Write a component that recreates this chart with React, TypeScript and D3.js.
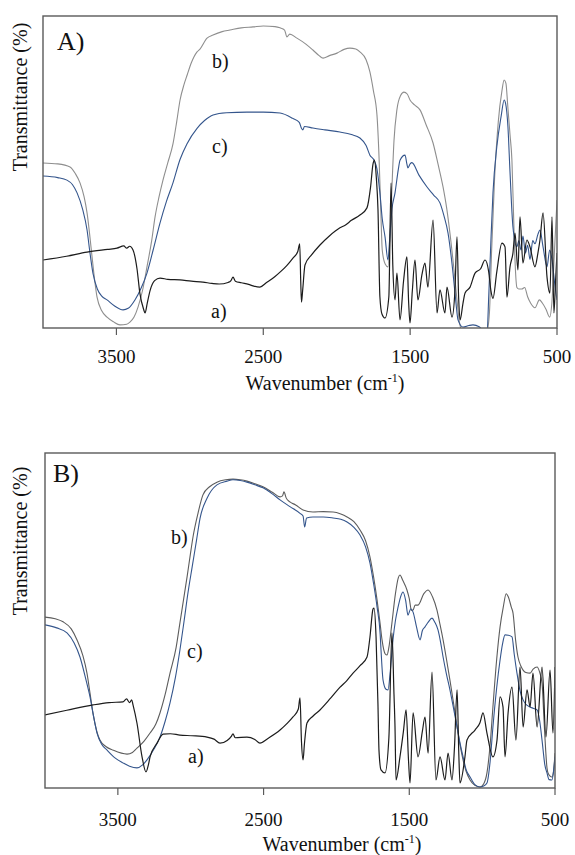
import React from "react";
import * as d3 from "d3";

type Pt = [number, number];

const xTicks = [3500, 2500, 1500, 500];
const xDomain: [number, number] = [4000, 500];
const yDomain: [number, number] = [0, 100];

// Panel A — spectrum a (black)
const A_a: Pt[] = [[4000,21.8],[3840,23.0],[3700,24.3],[3560,25.2],[3496,25.6],[3450,26.3],[3430,25.6],[3410,26.2],[3387,25.0],[3360,19],[3340,11.0],[3315,6],[3305,4.8],[3290,8],[3271,12.0],[3240,15.2],[3203,16.0],[3150,15.6],[3067,15.4],[2990,15.0],[2911,14.7],[2850,14.3],[2800,14.1],[2740,14.6],[2720,15.2],[2706,16.3],[2690,15.0],[2650,14.5],[2600,14.0],[2570,13.5],[2523,13.1],[2480,14.5],[2420,16.5],[2386,17.9],[2340,20],[2298,22.4],[2265,24.5],[2252,27.0],[2245,15],[2240,8.3],[2232,12],[2216,20.2],[2170,23.5],[2114,26.6],[2050,29.5],[1978,32.1],[1940,33],[1900,34.5],[1842,36.2],[1794,38.5],[1770,45],[1753,52.5],[1743,53.8],[1730,48],[1719,38],[1706,10],[1692,4.5],[1671,3.2],[1645,10],[1630,46.5],[1618,20],[1603,9.0],[1590,17.6],[1569,2.6],[1545,15],[1522,22.8],[1510,8],[1501,1.6],[1485,12],[1467,21.8],[1447,9.0],[1420,17],[1399,20.8],[1379,13.1],[1344,34.6],[1317,4.8],[1297,12.2],[1263,4.8],[1249,13.1],[1215,3.5],[1195,12],[1181,29.2],[1170,10],[1160,2.6],[1140,8],[1126,11.2],[1092,13.1],[1058,17.6],[1020,19],[990,21.8],[965,18],[950,12],[936,9.5],[910,18],[875,27.2],[854,26.0],[841,9.9],[820,19.6],[800,24],[786,30.4],[766,18.6],[752,35.6],[732,20.8],[705,28.2],[684,26.0],[650,19.6],[630,24],[616,28.2],[595,36.9],[568,16.3],[548,11.2],[534,35.6],[521,4.8],[510,15],[500,24]];

// Panel A — spectrum b (gray)
const A_b: Pt[] = [[4000,52.9],[3900,52.6],[3816,51.6],[3780,49.5],[3748,46.5],[3720,42],[3700,36.9],[3680,29],[3666,22.8],[3632,9.9],[3600,5.5],[3564,3.5],[3520,2],[3476,1.0],[3430,1.2],[3408,1.9],[3380,3.5],[3353,6.7],[3320,12.5],[3292,19.6],[3260,28],[3237,35.6],[3210,42],[3183,47.4],[3150,53],[3115,59],[3090,66],[3067,73],[3040,78],[3019,81],[2990,85],[2951,88.5],[2931,89.4],[2883,92.9],[2842,93.9],[2780,95],[2727,95.5],[2650,96.2],[2570,96.5],[2500,96.8],[2420,96.6],[2386,96.2],[2355,95.5],[2339,93.3],[2320,94.2],[2271,92.9],[2210,91],[2162,89.1],[2120,87.3],[2093,86.5],[2050,87.3],[1998,88.1],[1950,89.3],[1910,89.7],[1870,89.4],[1842,88.5],[1800,86],[1774,82.1],[1750,76],[1726,68.3],[1712,55],[1700,38],[1690,25],[1670,20.5],[1651,19.6],[1638,28],[1624,45],[1610,60],[1590,70],[1565,74.5],[1542,75.6],[1520,75],[1500,73],[1470,71.5],[1433,69.9],[1390,65],[1344,59.3],[1310,52.5],[1276,45.2],[1250,38],[1229,30.4],[1200,18],[1181,9],[1165,2],[1150,-0.5],[1100,-1],[1000,-1],[975,-0.5],[960,5],[945,25],[925,48],[900,66],[875,76],[860,79.5],[848,78.5],[835,71],[820,62],[807,53.8],[795,35],[786,21.8],[773,13],[760,12.5],[740,12.5],[720,13],[700,10],[680,8],[650,6.5],[620,9],[600,8],[575,6],[550,3.5],[535,8],[520,22],[500,41]];

// Panel A — spectrum c (blue)
const A_c: Pt[] = [[4000,48.7],[3900,48.2],[3837,47.4],[3800,46],[3768,43.3],[3730,38],[3700,31.4],[3680,24],[3660,17.6],[3630,12.5],[3600,10.2],[3564,9.0],[3510,7],[3455,5.8],[3420,6.3],[3374,9.0],[3330,13],[3292,17.6],[3250,25],[3203,33.7],[3160,40.5],[3115,46.5],[3067,54],[3020,59],[2951,64],[2900,66.5],[2842,68.3],[2750,69],[2611,69.2],[2500,69.2],[2386,68.9],[2300,67.2],[2255,65.9],[2240,64.0],[2230,63.5],[2220,64.6],[2162,64.1],[2080,63.5],[1978,62.8],[1900,62],[1842,60.9],[1800,58.5],[1774,55.4],[1746,53.8],[1726,51],[1706,43.3],[1690,35],[1671,29.2],[1651,21.8],[1640,28],[1624,38],[1603,43.3],[1580,51],[1569,53.8],[1535,55.4],[1522,52.5],[1515,51.3],[1500,52.6],[1488,53],[1440,49],[1385,45.2],[1340,42.6],[1297,40.1],[1270,36],[1242,30.4],[1208,17.6],[1190,9],[1174,2.6],[1140,0.3],[1100,0.8],[1072,1.0],[1030,0.4],[1004,-0.5],[975,-0.5],[965,10],[950,28],[936,43.3],[910,58],[880,68],[860,73.1],[850,72],[834,64.4],[820,50],[800,32.4],[773,26],[760,28],[745,25],[732,29.5],[715,24],[700,26.5],[684,22],[665,28],[650,27],[630,30],[616,31.4],[595,26],[568,19.6],[550,25],[534,21.8],[515,14],[500,9]];

// Panel B — spectrum a (black)
const B_a: Pt[] = [[4000,21.8],[3850,23.2],[3671,24.8],[3560,25.5],[3465,25.7],[3440,26.6],[3420,25.5],[3405,26.3],[3396,24.8],[3369,19.4],[3334,9.3],[3307,4.8],[3290,7],[3279,9.3],[3231,13.4],[3190,16.1],[3140,16.2],[3074,15.8],[2990,15.6],[2888,15.2],[2840,14.6],[2799,13.4],[2750,14.2],[2720,15.5],[2710,16.2],[2695,15.0],[2614,15.2],[2560,14.5],[2525,13.4],[2470,14.8],[2387,17.3],[2340,19.2],[2298,21.2],[2262,23.5],[2250,26.9],[2240,14],[2229,8.4],[2220,13],[2202,19.4],[2160,21.5],[2113,23.3],[2040,26.8],[1975,30.1],[1930,32],[1886,34.3],[1838,36.5],[1790,39.1],[1770,45],[1749,53.4],[1742,53.7],[1728,45],[1715,25],[1708,11.3],[1694,5.4],[1667,4.5],[1640,15],[1619,46.3],[1605,28],[1598,18.2],[1591,2.4],[1564,9.3],[1540,17],[1522,23.3],[1505,8],[1495,1.5],[1474,22.4],[1440,9.3],[1410,17],[1392,21.2],[1371,10.4],[1344,34.6],[1317,2.4],[1289,9.3],[1255,2.4],[1234,10.4],[1207,2.4],[1190,12],[1172,29.3],[1160,10],[1152,1.5],[1118,9.3],[1104,14.3],[1049,17.3],[1015,19.5],[994,22.4],[967,16.4],[926,9.3],[898,14.3],[877,27.2],[857,24.2],[843,9.3],[822,22.4],[795,30.1],[768,14.3],[740,36.1],[719,18.2],[692,29.3],[671,24.2],[651,34.3],[623,18.2],[589,36.1],[562,15.2],[534,35.2],[514,16.4],[500,36.1]];

// Panel B — spectrum b (gray)
const B_b: Pt[] = [[4000,51.0],[3930,50.5],[3876,49.6],[3820,47.5],[3780,44.2],[3740,39.5],[3712,34.3],[3690,28],[3671,22.4],[3645,17],[3623,14.3],[3580,12.3],[3533,11.3],[3437,10.1],[3400,10.6],[3369,11.9],[3320,14],[3279,16.4],[3240,19],[3211,22.4],[3175,28],[3142,34.3],[3100,42],[3074,49.3],[3050,56],[3025,63],[3005,69],[2984,75],[2950,82],[2916,87.5],[2868,90],[2820,91.3],[2760,92.0],[2710,92.2],[2660,92],[2614,91.6],[2560,90.8],[2504,89.9],[2440,88.3],[2387,86.9],[2370,87.2],[2360,88.4],[2345,86.6],[2319,85.4],[2280,84.5],[2229,83],[2161,82.4],[2090,82.5],[2023,82.4],[1970,81.8],[1927,80.9],[1880,79.5],[1838,77],[1800,73.8],[1770,69],[1745,63],[1721,56.1],[1700,49],[1687,44.2],[1665,40],[1653,39.7],[1640,42],[1619,49.3],[1595,58],[1575,62.8],[1564,63.6],[1545,62],[1516,59.1],[1500,56.5],[1485,53],[1474,53.1],[1460,54.6],[1440,54.6],[1400,58],[1371,59.1],[1340,57],[1310,53.1],[1290,49],[1268,44.2],[1245,38.5],[1221,32.2],[1195,25],[1172,18.2],[1150,12.5],[1131,8.4],[1110,5],[1083,2.4],[1050,0.8],[1015,0.3],[990,1.2],[967,4.5],[945,13],[926,24.2],[900,38.5],[877,48.1],[855,54],[835,58],[820,57],[800,54],[788,52.2],[770,44],[754,39.1],[735,36.5],[719,35.2],[700,34.5],[671,34.3],[650,35.5],[623,36.1],[605,34.5],[589,31.3],[575,20],[568,14.3],[555,6],[548,4.5],[521,3.3],[510,5],[500,10.4]];

// Panel B — spectrum c (blue)
const B_c: Pt[] = [[4000,48.7],[3920,47.8],[3849,46.3],[3800,43.3],[3760,39.1],[3720,32.5],[3691,27.2],[3665,21],[3643,16.4],[3610,13],[3574,11.3],[3520,9],[3465,7.5],[3420,6.5],[3369,6.0],[3330,6.9],[3300,8.4],[3250,11.8],[3211,15.2],[3175,20],[3142,25.4],[3105,33],[3074,41.2],[3045,50],[3019,58.2],[2990,66],[2960,74],[2936,80.5],[2888,86.5],[2820,90.5],[2751,91.6],[2710,92.0],[2660,91.8],[2614,91.3],[2560,90.5],[2504,89.6],[2440,87.8],[2387,86.0],[2319,84.0],[2250,82.0],[2229,81.2],[2218,77.9],[2205,80.6],[2161,80.9],[2090,80.9],[2023,80.6],[1970,80.2],[1927,79.4],[1880,77.8],[1838,75.5],[1800,72],[1770,67.2],[1745,61],[1721,54.0],[1700,46],[1694,41.2],[1680,32.2],[1660,29.5],[1646,29.3],[1630,35],[1612,44.2],[1595,50],[1577,54],[1560,57],[1543,58.5],[1525,56],[1509,51.6],[1490,53.5],[1474,52.5],[1450,48],[1426,44.2],[1410,47],[1392,48.1],[1370,49.5],[1344,50.7],[1325,49.5],[1303,47.2],[1285,43.5],[1268,39.1],[1245,34],[1221,29.3],[1195,23.5],[1172,18.2],[1150,13],[1131,9.3],[1110,5.5],[1083,3.3],[1050,1],[1015,0.3],[990,0.6],[967,1.5],[945,8],[926,18.2],[900,30],[877,38.2],[860,43],[843,45.7],[820,45.6],[795,45.1],[780,40],[761,34.3],[740,29],[719,26.3],[700,25],[671,24.2],[650,23.8],[623,23.3],[605,20],[589,14.3],[570,7],[555,4.5],[540,2.5],[521,2.4],[510,5],[500,9.3]];

const seriesNames = ["a)", "b)", "c)"];
const panelNames = ["A)", "B)"];
const yTitle = "Transmittance (%)";

const FONT = "Liberation Serif, DejaVu Serif, serif";

interface PanelProps {
  id: string;
  name: string;
  left: number; right: number; top: number; bottom: number;
  a: Pt[]; b: Pt[]; c: Pt[];
  grayColor: string;
  nameX: number; nameY: number;
  lab: { x: number; y: number }[]; // a, b, c
  yTitleY: number;
  xTitleX: number; xTitleY: number; tickY: number;
}

function Panel(p: PanelProps) {
  const x = d3.scaleLinear().domain(xDomain).range([p.left, p.right]);
  const y = d3.scaleLinear().domain(yDomain).range([p.bottom, p.top]);
  const line = d3.line<Pt>().x(d => x(d[0])).y(d => y(d[1])).curve(d3.curveMonotoneX);
  const clipId = `clip-${p.id}`;
  const ts = { fontFamily: FONT };
  return (
    <g>
      <defs>
        <clipPath id={clipId}>
          <rect x={p.left} y={p.top} width={p.right - p.left} height={p.bottom - p.top} />
        </clipPath>
      </defs>
      <g clipPath={`url(#${clipId})`}>
        <path d={line(p.b) || ""} fill="none" stroke={p.grayColor} strokeWidth={1.1} />
        <path d={line(p.c) || ""} fill="none" stroke="#34558c" strokeWidth={1.1} />
        <path d={line(p.a) || ""} fill="none" stroke="#1c1c1c" strokeWidth={1.2} />
      </g>
      <rect x={p.left} y={p.top} width={p.right - p.left} height={p.bottom - p.top}
        fill="none" stroke="#5a5a5a" strokeWidth={1.4} />
      {xTicks.map(t => (
        <g key={t}>
          <line x1={x(t)} x2={x(t)} y1={p.bottom} y2={p.bottom + 7} stroke="#5a5a5a" strokeWidth={1.2} />
          <text x={x(t)} y={p.tickY} textAnchor="middle" style={ts} fontSize={19} fill="#111">{t}</text>
        </g>
      ))}
      <text x={p.xTitleX} y={p.xTitleY} textAnchor="middle" style={ts} fontSize={20} fill="#111">
        Wavenumber (cm<tspan fontSize={12} dy={-8}>-1</tspan><tspan dy={8}>)</tspan>
      </text>
      <text transform={`translate(27,${p.yTitleY}) rotate(-90)`} textAnchor="middle" style={ts} fontSize={20} fill="#111">{yTitle}</text>
      <text x={p.nameX} y={p.nameY} style={ts} fontSize={26} fill="#111">{p.name}</text>
      {seriesNames.map((s, i) => (
        <text key={s} x={p.lab[i].x} y={p.lab[i].y} style={ts} fontSize={20} fill="#111">{s}</text>
      ))}
    </g>
  );
}

export default function App() {
  return (
    <svg width={575} height={855} style={{ position: "absolute", left: 0, top: 0, background: "#fff" }}>
      <rect width={575} height={855} fill="#fff" />
      <Panel id="A" name={panelNames[0]} left={43} right={557} top={16} bottom={328}
        a={A_a} b={A_b} c={A_c} grayColor="#8e8e8e"
        nameX={57} nameY={50}
        lab={[{ x: 211, y: 318 }, { x: 212, y: 68 }, { x: 212, y: 153 }]}
        yTitleY={97} xTitleX={325} xTitleY={390} tickY={363} />
      <Panel id="B" name={panelNames[1]} left={45} right={555} top={453} bottom={788}
        a={B_a} b={B_b} c={B_c} grayColor="#5c5c5c"
        nameX={53} nameY={482}
        lab={[{ x: 188, y: 763 }, { x: 171, y: 544 }, { x: 187, y: 658 }]}
        yTitleY={541} xTitleX={342} xTitleY={851} tickY={826} />
    </svg>
  );
}
